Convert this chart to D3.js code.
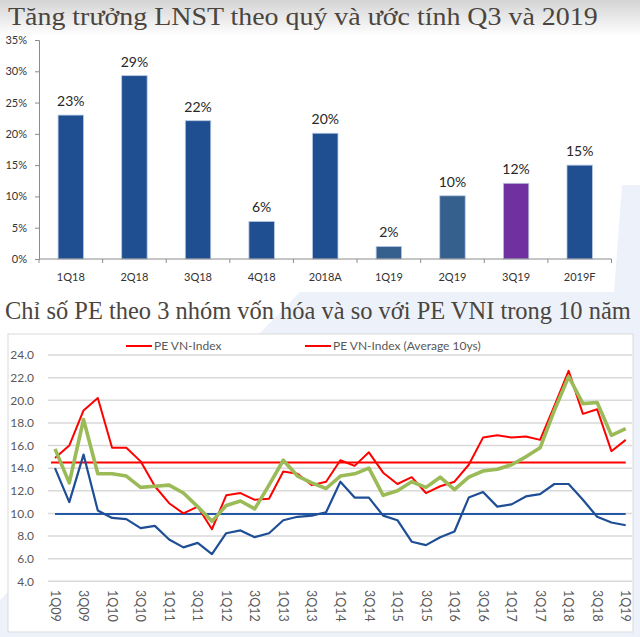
<!DOCTYPE html>
<html>
<head>
<meta charset="utf-8">
<script src="https://cdn.jsdelivr.net/npm/d3@7/dist/d3.min.js"></script>
<style>
  html, body { margin: 0; padding: 0; background: #ffffff; }
  svg { display: block; }
</style>
</head>
<body>
<svg id="chart" width="640" height="637"></svg>
<script>
// ---------- DATA ----------
const title1 = "Tăng trưởng LNST theo quý và ước tính Q3 và 2019";
const title2 = "Chỉ số PE theo 3 nhóm vốn hóa và so với PE VNI trong 10 năm";

const barCategories = ["1Q18","2Q18","3Q18","4Q18","2018A","1Q19","2Q19","3Q19","2019F"];
const barValues = [0.23, 0.293, 0.221, 0.06, 0.201, 0.02, 0.101, 0.121, 0.15];
const barTicks = [0, 0.05, 0.10, 0.15, 0.20, 0.25, 0.30, 0.35];

const quarters = ["1Q09","2Q09","3Q09","4Q09","1Q10","2Q10","3Q10","4Q10","1Q11","2Q11","3Q11","4Q11",
  "1Q12","2Q12","3Q12","4Q12","1Q13","2Q13","3Q13","4Q13","1Q14","2Q14","3Q14","4Q14",
  "1Q15","2Q15","3Q15","4Q15","1Q16","2Q16","3Q16","4Q16","1Q17","2Q17","3Q17","4Q17",
  "1Q18","2Q18","3Q18","4Q18","1Q19"];
const quarterTickLabels = ["1Q09","3Q09","1Q10","3Q10","1Q11","3Q11","1Q12","3Q12","1Q13","3Q13","1Q14",
  "3Q14","1Q15","3Q15","1Q16","3Q16","1Q17","3Q17","1Q18","3Q18","1Q19"];
const peVNIndex = [14.9,16.0,19.1,20.2,15.8,15.8,14.6,12.4,10.9,10.0,10.6,8.6,11.6,11.8,11.2,11.3,13.7,13.5,12.5,12.8,
  14.7,14.2,15.4,13.6,12.6,13.2,11.8,12.4,12.8,14.3,16.7,16.9,16.7,16.8,16.5,19.5,22.6,18.8,19.2,15.5,16.5];
const peGreen = [15.7,12.7,18.3,13.5,13.5,13.3,12.3,12.4,12.5,11.8,10.6,9.3,10.7,11.1,10.4,12.5,14.7,13.3,12.7,12.2,
  13.3,13.5,14.0,11.6,12.0,12.8,12.3,13.2,12.1,13.2,13.75,13.9,14.3,15.0,15.8,19.1,22.1,19.7,19.8,16.9,17.5];
const peBlue = [14.0,11.0,15.2,10.25,9.6,9.5,8.7,8.9,7.7,7.0,7.4,6.4,8.25,8.5,7.9,8.25,9.4,9.7,9.8,10.1,
  12.8,11.4,11.4,9.8,9.4,7.5,7.2,7.9,8.4,11.4,11.9,10.6,10.8,11.5,11.7,12.6,12.6,11.2,9.7,9.2,8.95];
const peVNIndexAvg = 14.5;
const peBlueAvg = 9.95;
const peTicks = [4,6,8,10,12,14,16,18,20,22,24];
const legendLabels = ["PE VN-Index", "PE VN-Index (Average 10ys)"];

// ---------- DRAW ----------
const svg = d3.select("#chart");
const FONT = "Lato, 'Liberation Sans', Arial, sans-serif";
const SERIF = "'Liberation Serif', 'DejaVu Serif', serif";

const defs = svg.append("defs");
const g1 = defs.append("linearGradient").attr("id","topgrad").attr("x1",0).attr("y1",0).attr("x2",0).attr("y2",1);
g1.append("stop").attr("offset","0%").attr("stop-color","#d4d4d4");
g1.append("stop").attr("offset","100%").attr("stop-color","#ffffff");

// background decorations
svg.append("rect").attr("x",0).attr("y",0).attr("width",640).attr("height",36).attr("fill","url(#topgrad)");
svg.append("polygon")
  .attr("points","622,185 640,185 640,637 0,637 0,600 300,292 614,292")
  .attr("fill","#edf2fa");

// Titles (stretched horizontally to the reference width)
function fitTitle(txt, x, y, width) {
  const t = svg.append("text").attr("x",0).attr("y",0)
    .attr("font-family",SERIF).attr("font-size",26).attr("fill","#4b4540").text(txt);
  const w = t.node().getComputedTextLength();
  t.attr("transform", `translate(${x},${y}) scale(${width / w},1)`);
}
fitTitle(title1, 8, 25, 590);
fitTitle(title2, 5, 319, 626);

// ---------- Top bar chart ----------
const bx = d3.scaleBand().domain(barCategories).range([39, 611.5]).paddingInner(0.6).paddingOuter(0.3);
const by = d3.scaleLinear().domain([0, 0.35]).range([259, 40]);
const barColor = d3.scaleOrdinal().domain(barCategories)
  .range(["#1f4e91","#1f4e91","#1f4e91","#1f4e91","#1f4e91","#355f8d","#355f8d","#7030a0","#1f4e91"]);
const pct = d3.format(".0%");

const gTop = svg.append("g");
// y axis
const yAxisTop = d3.axisLeft(by).tickValues(barTicks).tickFormat(pct).tickSize(4).tickPadding(8);
const yg = gTop.append("g").attr("transform","translate(39,0)").call(yAxisTop);
yg.select(".domain").attr("stroke","#8c8c8c");
yg.selectAll(".tick line").attr("stroke","#8c8c8c");
yg.selectAll(".tick text").attr("font-family",FONT).attr("font-size",11).attr("fill","#333333");

// bars
gTop.selectAll("rect.bar").data(barCategories).enter().append("rect")
  .attr("class","bar")
  .attr("x", d => bx(d))
  .attr("width", bx.bandwidth())
  .attr("y", (d,i) => by(barValues[i]))
  .attr("height", (d,i) => by(0) - by(barValues[i]))
  .attr("fill", d => barColor(d))
  .attr("stroke","#b7c9e2").attr("stroke-width",0.8);

// value labels
gTop.selectAll("text.val").data(barCategories).enter().append("text")
  .attr("class","val")
  .attr("x", d => bx(d) + bx.bandwidth()/2)
  .attr("y", (d,i) => by(barValues[i]) - 9)
  .attr("text-anchor","middle")
  .attr("font-family",FONT).attr("font-size",14).attr("fill","#262626")
  .text((d,i) => pct(barValues[i]));

// x axis
const x0 = bx.range()[0], step = bx.step();
gTop.append("line").attr("x1",x0).attr("x2",bx.range()[1]).attr("y1",by(0)).attr("y2",by(0))
  .attr("stroke","#8c8c8c");
gTop.selectAll("line.xt").data(d3.range(barCategories.length + 1)).enter().append("line")
  .attr("x1", k => x0 + k*step).attr("x2", k => x0 + k*step)
  .attr("y1", by(0)).attr("y2", by(0) + 4).attr("stroke","#8c8c8c");
gTop.selectAll("text.xl").data(barCategories).enter().append("text")
  .attr("x", d => bx(d) + bx.bandwidth()/2).attr("y", 281)
  .attr("text-anchor","middle").attr("font-family",FONT).attr("font-size",11).attr("fill","#333333")
  .text(d => d);

// ---------- Bottom line chart ----------
svg.append("rect").attr("x",8).attr("y",334).attr("width",625).attr("height",298)
  .attr("fill","#ffffff").attr("stroke","#d9d9d9").attr("stroke-width",1);

const lx = d3.scalePoint().domain(quarters).range([55, 625.7]);
const ly = d3.scaleLinear().domain([4, 24]).range([581.3, 355]);
const bot = svg.append("g");

// grid
bot.selectAll("line.grid").data(peTicks).enter().append("line")
  .attr("x1",48).attr("x2",632).attr("y1", d => ly(d)).attr("y2", d => ly(d))
  .attr("stroke","#d9d9d9").attr("stroke-width",1.5);
// y labels
const yAxisBot = d3.axisLeft(ly).tickValues(peTicks).tickFormat(d3.format(".1f")).tickSize(0).tickPadding(0);
const yb = bot.append("g").attr("transform","translate(34,0)").call(yAxisBot);
yb.select(".domain").remove();
yb.selectAll(".tick text").attr("font-family",FONT).attr("font-size",12).attr("fill","#595959");

// x labels rotated
bot.selectAll("text.ql").data(quarterTickLabels).enter().append("text")
  .attr("transform", d => `translate(${lx(d)},590) rotate(90)`)
  .attr("text-anchor","start").attr("dy","0.35em")
  .attr("font-family",FONT).attr("font-size",12.5).attr("fill","#595959")
  .text(d => d);

const line = d3.line().x((d,i) => lx(quarters[i])).y(d => ly(d));

// average lines
bot.append("line").attr("x1",lx(quarters[0])).attr("x2",lx(quarters[quarters.length-1]))
  .attr("y1",ly(peBlueAvg)).attr("y2",ly(peBlueAvg)).attr("stroke","#2458a6").attr("stroke-width",2);
bot.append("line").attr("x1",lx(quarters[0])-4).attr("x2",lx(quarters[quarters.length-1]))
  .attr("y1",ly(peVNIndexAvg)).attr("y2",ly(peVNIndexAvg)).attr("stroke","#ff0000").attr("stroke-width",2);

bot.append("path").datum(peBlue).attr("d",line).attr("fill","none")
  .attr("stroke","#1f4e96").attr("stroke-width",2.2).attr("stroke-linejoin","round");
bot.append("path").datum(peVNIndex).attr("d",line).attr("fill","none")
  .attr("stroke","#ff0000").attr("stroke-width",2).attr("stroke-linejoin","round");
bot.append("path").datum(peGreen).attr("d",line).attr("fill","none")
  .attr("stroke","#9bbb59").attr("stroke-width",3.6).attr("stroke-linejoin","round");

// legend
const legX = [126, 305];
legendLabels.forEach((lab, i) => {
  bot.append("line").attr("x1",legX[i]).attr("x2",legX[i]+26).attr("y1",346).attr("y2",346)
    .attr("stroke","#ff0000").attr("stroke-width",2);
  bot.append("text").attr("x",legX[i]+28).attr("y",346).attr("dy","0.35em")
    .attr("font-family",FONT).attr("font-size",12).attr("fill","#595959").text(lab);
});
</script>
</body>
</html>
